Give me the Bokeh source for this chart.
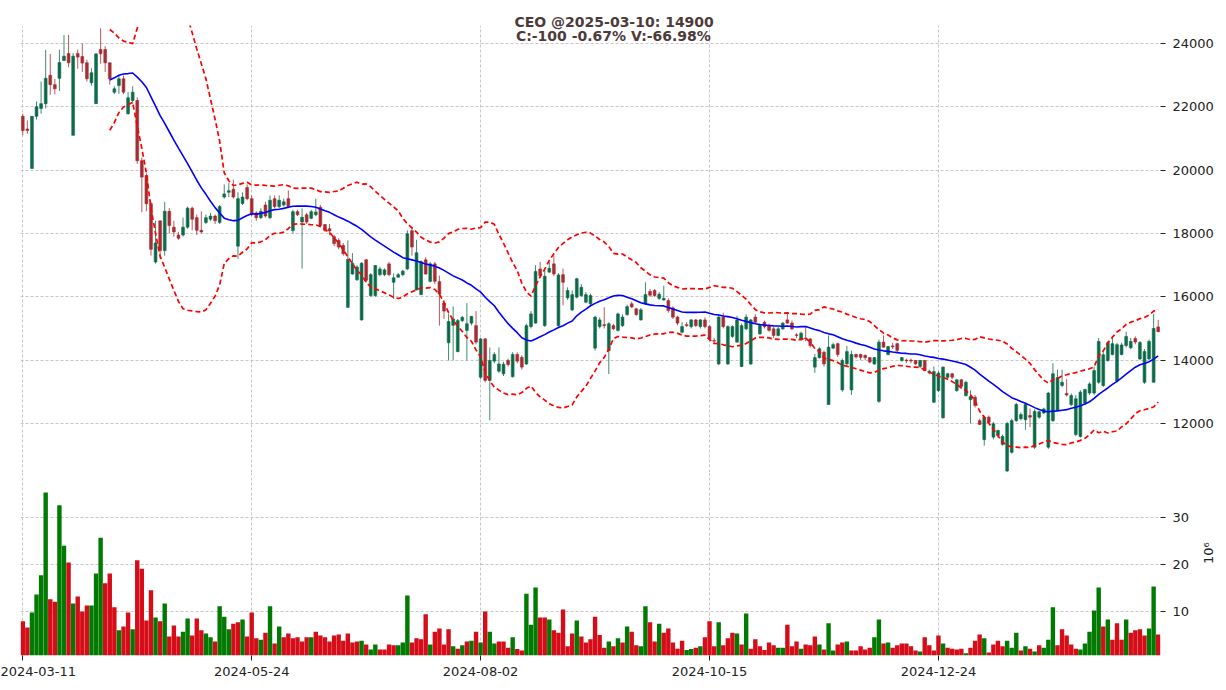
import numpy as np
import pandas as pd
from bokeh.plotting import figure
from bokeh.layouts import column
from bokeh.models import Range1d, FixedTicker, Label, ColumnDataSource
from bokeh.embed import file_html
from bokeh.resources import INLINE

ticker_name = "CEO"
title_line1 = "CEO @2025-03-10: 14900"
title_line2 = "C:-100 -0.67% V:-66.98%"
volume_unit = "10\u2076"
tick_dates = ["2024-03-11", "2024-05-24", "2024-08-02", "2024-10-15", "2024-12-24"]
tick_index = [0, 50, 100, 150, 200]
price_ticks = [12000, 14000, 16000, 18000, 20000, 22000, 24000]
volume_ticks = [10, 20, 30]

open_ = [
    21700, 21300, 20050, 21700, 21950, 22100, 23000, 22700, 22900, 23460,
    23680, 21100, 23680, 23590, 23390, 22760, 22100, 23810, 23810, 23390,
    22460, 22674, 22885, 21780, 22200, 22200, 20300, 19830, 18940, 17100,
    18400, 17460, 18700, 18200, 17950, 17950, 18200, 18800, 18500, 18100,
    18350, 18450, 18550, 18350, 19150, 19300, 19400, 17600, 18950, 19450,
    19100, 18650, 18500, 18900, 18500, 19100, 18850, 18900, 19100, 18095,
    18690, 18360, 18590, 18480, 18590, 18830, 18280, 18150, 17900, 17780,
    17620, 15670, 16720, 16540, 15270, 17170, 16040, 16040, 16700, 16700,
    17040, 16460, 16620, 16700, 16880, 18090, 16220, 16070, 17170, 16490,
    17040, 16480, 15800, 14550, 15100, 14270, 15250, 14940, 15170, 15090,
    13460, 14670, 13360, 13970, 13650, 13570, 13990, 13480, 14180, 14090,
    13880, 15060, 15170, 16880, 15090, 16780, 17040, 15090, 16700, 15970,
    15590, 15990, 16040, 15830, 15780, 14380, 15060, 15120, 14300, 15090,
    14940, 15090, 15440, 15780, 15620, 15270, 15780, 16170, 16200, 15950,
    15900, 15880, 15650, 15360, 14880, 15120, 15060, 15270, 15060, 15270,
    15060, 14620, 13880, 15360, 13880, 14750, 14570, 13800, 14990, 13880,
    15360, 14830, 15200, 15090, 14990, 14780, 14990, 15270, 15170, 14800,
    14670, 14700, 14670, 13780, 14080, 14250, 12600, 14380, 14520, 13060,
    13880, 13060, 14180, 14180, 14150, 14080, 13880, 12700, 14570, 14180,
    14450, 14520, 13990, 14000, 14000, 13990, 13800, 13990, 13600, 12670,
    13040, 12180, 13460, 13570, 13040, 13380, 12880, 12750, 12830, 12090,
    11490, 12200, 11570, 11620, 11340, 10500, 11090, 12090, 12150, 12120,
    12250, 11250, 12200, 12330, 11250, 12090, 12410, 13200, 12950, 12600,
    11650, 11590, 12640, 12960, 12960, 13300, 13200, 13990, 14180, 13340,
    14180, 14460, 14390, 14680, 14040, 13300, 14040, 13300, 15050,
]
high = [
    21780, 21570, 21700, 22170, 22800, 23800, 23670, 22880, 23800, 24270,
    24270, 23700, 23810, 24000, 23485, 23220, 23700, 24480, 23915, 23400,
    22650, 22990, 22990, 22470, 22650, 22300, 20400, 19900, 19000, 18400,
    18400, 19000, 18800, 18400, 18050, 18500, 18850, 18850, 18600, 18700,
    18600, 18650, 18600, 18900, 19550, 19600, 19700, 19300, 19300, 19550,
    19200, 18700, 18800, 19000, 19200, 19200, 19200, 19100, 19360, 18750,
    18750, 18790, 18650, 18750, 19100, 18900, 18300, 18300, 17950, 17850,
    17700, 17780, 17380, 17000, 17100, 17200, 16750, 17000, 16950, 16900,
    17100, 16740, 16750, 16850, 18100, 18200, 17800, 17150, 17250, 17100,
    17100, 16670, 15900, 15470, 15700, 15300, 15400, 15800, 15400, 15550,
    14700, 14700, 14400, 14250, 14400, 13950, 14050, 14250, 14250, 14150,
    15150, 15550, 17000, 17100, 16900, 17100, 17300, 16750, 16890, 16300,
    16200, 16600, 16400, 16150, 16100, 15400, 15350, 15670, 15200, 15150,
    15500, 15450, 15750, 15850, 15650, 15650, 16460, 16250, 16250, 16150,
    16350, 15950, 15700, 15400, 15200, 15200, 15300, 15300, 15300, 15350,
    15100, 14700, 15450, 15500, 15100, 15100, 15400, 15150, 15450, 15300,
    15450, 15150, 15250, 15150, 15050, 15050, 15200, 15510, 15250, 14850,
    14900, 15050, 14700, 14200, 14400, 14300, 14780, 14550, 14550, 14050,
    14450, 14300, 14200, 14200, 14180, 14100, 14100, 14650, 14780, 14450,
    14550, 14550, 14100, 14050, 14050, 14000, 14000, 14000, 13700, 13800,
    13650, 13800, 13600, 13600, 13400, 13400, 13350, 13050, 12900, 12150,
    12250, 12250, 12050, 11800, 11650, 12050, 12150, 12650, 12350, 12650,
    12470, 12450, 12400, 12500, 13000, 13900, 13700, 13700, 13400, 12950,
    12900, 13050, 13100, 13300, 13800, 14700, 14300, 14600, 14700, 14550,
    14550, 14900, 14700, 14750, 14600, 14350, 14650, 15460, 15270,
]
low = [
    21100, 21150, 20050, 21600, 21780, 21950, 22380, 22390, 22500, 23460,
    23250, 21100, 23200, 23100, 22800, 22670, 22095, 23360, 23100, 22700,
    22400, 22410, 22400, 21760, 22100, 20200, 18670, 18700, 17300, 17050,
    17200, 17300, 18000, 17900, 17800, 17900, 18150, 18100, 17950, 18000,
    18300, 18400, 18300, 18300, 19100, 19150, 19100, 17200, 18900, 19050,
    18550, 18400, 18450, 18500, 18450, 18800, 18800, 18850, 18800, 18000,
    18550, 16890, 18300, 18450, 18550, 18200, 18050, 17950, 17600, 17500,
    17300, 15650, 16700, 16500, 15250, 16450, 16000, 16000, 16650, 16650,
    16650, 15930, 16600, 16650, 16850, 17300, 16200, 16050, 16700, 16450,
    16400, 15090, 15300, 13990, 14000, 14250, 15200, 13990, 15100, 14500,
    13400, 13300, 12100, 13900, 13600, 13500, 13800, 13450, 13900, 13700,
    13850, 15000, 15150, 16600, 15050, 16750, 16650, 15050, 15730, 15900,
    15550, 15950, 16000, 15800, 15700, 14300, 15000, 15000, 13560, 14950,
    14900, 15050, 15400, 15650, 15400, 15250, 15750, 16000, 16000, 15900,
    15880, 15500, 15300, 15100, 14850, 15050, 15000, 15050, 15000, 15000,
    14600, 14500, 13850, 15000, 13850, 14700, 14550, 13780, 14950, 13850,
    15150, 14800, 15000, 14900, 14700, 14750, 14950, 15150, 14950, 14700,
    14600, 14600, 14400, 13600, 14050, 13800, 12600, 14350, 14100, 13000,
    13850, 12900, 14050, 14000, 14000, 13900, 13850, 12650, 14400, 14150,
    14350, 14250, 13950, 13900, 13900, 13850, 13750, 13650, 13550, 12650,
    13000, 12150, 13400, 13400, 13000, 13100, 12850, 12000, 12500, 11950,
    11300, 12000, 11500, 11550, 11300, 10450, 11050, 12050, 12100, 11800,
    11890, 11200, 12150, 12300, 11200, 12050, 12400, 13150, 12850, 12550,
    11600, 11550, 12600, 12900, 12900, 13250, 13150, 13950, 14150, 13300,
    14150, 14400, 14350, 14500, 14000, 13250, 14000, 13300, 14880,
]
close = [
    21250, 21250, 21700, 22000, 22100, 22900, 22700, 22570, 23400, 23600,
    23390, 23600, 23570, 23380, 22885, 23075, 23670, 23675, 23390, 22885,
    22570, 22885, 22463, 22285, 22463, 20300, 19780, 18940, 17500, 17700,
    17460, 18700, 18250, 18050, 17850, 18200, 18800, 18450, 18100, 18050,
    18500, 18550, 18400, 18850, 19250, 19350, 19150, 19100, 19150, 19100,
    18600, 18500, 18700, 18550, 19050, 18850, 19050, 19000, 18850, 18690,
    18590, 18510, 18360, 18690, 18680, 18250, 18100, 18080, 17680, 17570,
    17360, 17180, 17060, 16940, 17060, 16520, 16700, 16990, 16880, 16850,
    16700, 16600, 16700, 16810, 17990, 17570, 17390, 17110, 16720, 17040,
    16490, 16090, 15550, 15220, 15300, 15250, 15350, 15150, 15380, 14570,
    14670, 13360, 13990, 14180, 13880, 13870, 13860, 14180, 13970, 13780,
    15090, 15460, 16800, 16670, 16650, 16900, 16720, 16690, 16460, 16200,
    16070, 16570, 16300, 16070, 16040, 15360, 15270, 15090, 15150, 14990,
    15460, 15360, 15690, 15680, 15440, 15590, 16070, 16050, 16040, 16080,
    15950, 15570, 15360, 15170, 15060, 15090, 15270, 15090, 15270, 15060,
    14670, 14600, 15360, 15060, 15060, 15060, 15270, 15090, 15360, 15270,
    15200, 15090, 15060, 14940, 14780, 14990, 15170, 15170, 14990, 14780,
    14850, 14680, 14460, 14080, 14360, 13880, 14410, 14490, 14180, 13990,
    14270, 14180, 14100, 14090, 14080, 13940, 14080, 14570, 14410, 14430,
    14420, 14310, 14080, 13980, 13975, 13880, 13990, 13670, 13650, 13640,
    13590, 13780, 13570, 13460, 13380, 13170, 13300, 12850, 12570, 11970,
    12200, 12040, 11990, 11780, 11590, 12000, 12090, 12600, 12280, 12600,
    12200, 12380, 12370, 12460, 12960, 13570, 13450, 13300, 12900, 12880,
    12780, 12990, 13070, 13250, 13670, 14590, 14170, 14550, 14520, 14490,
    14480, 14750, 14590, 14570, 14560, 14270, 14590, 15000, 14900,
]
volume_m = [
    7.9, 6.6, 9.8, 13.6, 17.7, 35.3, 12.6, 12.1, 32.6, 24.0,
    20.4, 11.7, 13.2, 10.0, 11.3, 11.3, 18.1, 25.7, 16.0, 18.1,
    10.9, 6.0, 6.8, 9.8, 6.2, 20.9, 19.1, 8.1, 14.5, 8.7,
    7.9, 11.7, 4.7, 7.0, 4.7, 5.7, 8.5, 4.9, 8.5, 6.0,
    5.3, 4.5, 3.6, 11.1, 8.9, 6.2, 7.4, 7.7, 8.3, 4.7,
    9.8, 4.3, 4.0, 5.5, 11.1, 3.2, 6.8, 4.5, 5.3, 4.3,
    4.5, 3.6, 4.5, 4.5, 5.7, 4.9, 4.5, 3.6, 4.9, 5.1,
    3.8, 5.3, 3.4, 3.6, 3.8, 3.0, 1.9, 3.0, 1.9, 1.9,
    3.0, 2.8, 2.8, 3.4, 13.4, 3.4, 4.3, 4.1, 9.4, 3.0,
    5.7, 6.4, 3.0, 6.2, 2.6, 2.1, 2.8, 3.6, 3.8, 5.7,
    3.4, 10.0, 5.7, 3.2, 3.6, 3.6, 2.3, 4.5, 2.0, 1.7,
    13.8, 7.2, 15.1, 8.7, 8.7, 8.3, 6.0, 5.5, 10.4, 2.6,
    5.3, 8.1, 4.7, 3.4, 4.1, 8.9, 5.0, 2.3, 3.6, 2.6,
    4.3, 3.4, 6.8, 5.7, 2.8, 2.6, 11.1, 7.7, 3.6, 7.4,
    5.5, 6.4, 3.4, 2.1, 3.8, 1.8, 2.0, 2.3, 2.6, 4.5,
    7.9, 2.6, 7.7, 2.8, 4.3, 5.5, 5.3, 3.0, 9.6, 2.1,
    4.1, 2.6, 1.8, 3.4, 2.8, 2.3, 2.3, 7.2, 2.6, 3.6,
    2.1, 3.0, 2.8, 4.7, 3.0, 1.9, 7.5, 1.7, 3.0, 3.4,
    3.6, 1.7, 1.7, 2.6, 1.9, 2.3, 4.5, 8.3, 3.2, 3.4,
    2.3, 2.8, 3.2, 3.2, 2.6, 1.7, 1.5, 4.5, 2.8, 1.7,
    4.9, 3.2, 2.3, 2.1, 1.9, 2.1, 1.1, 2.3, 3.8, 5.1,
    4.3, 1.3, 3.0, 3.8, 2.6, 3.8, 2.3, 5.5, 1.7, 2.6,
    2.1, 1.5, 2.8, 2.3, 4.0, 10.9, 2.8, 6.2, 4.9, 3.0,
    2.1, 1.9, 3.2, 5.7, 10.2, 15.1, 6.8, 8.3, 4.0, 7.5,
    4.0, 8.3, 5.5, 6.0, 6.2, 4.9, 6.4, 15.3, 5.1,
]

# ---------------- derived (as the original plotting library does) -------------
df = pd.DataFrame(dict(o=open_, h=high, l=low, c=close, v=volume_m))
n = len(df)
df["x"] = np.arange(n)
UP_C, DN_C = "#006340", "#a02128"
VUP_C, VDN_C = "#007a00", "#d50d18"
df["up"] = df.o < df.c
df["ccol"] = np.where(df.up, UP_C, DN_C)
df["top"] = df[["o", "c"]].max(axis=1)
df["bot"] = df[["o", "c"]].min(axis=1)
prev = df.c.shift(1)
vup = (prev < df.c)
vup.iloc[0] = df.o.iloc[0] < df.c.iloc[0]
df["vcol"] = np.where(vup, VUP_C, VDN_C)
ma = df.c.rolling(20).mean()
sd = df.c.rolling(20).std()
df["ma"] = ma
df["bu"] = ma + 2 * sd
df["bl"] = ma - 2 * sd
src = ColumnDataSource(df)

FONT = "DejaVu Sans"
GRID = "#b9b9b9"
TITLE_C = "#4d3b3b"
W = 1226
BL, BR = 20, 66
xr = Range1d(-0.5, n - 0.5)

# ---------------- price panel ----------------
p = figure(width=W, height=472, x_range=xr, y_range=Range1d(10452, 24568),
           output_backend="svg", toolbar_location=None, x_axis_location=None,
           y_axis_location="right", min_border_left=BL, min_border_right=BR,
           min_border_top=25, min_border_bottom=0)
p.outline_line_color = None
p.background_fill_color = "white"
p.border_fill_color = "white"

p.title.text = title_line1
p.title.align = "left"
p.title.offset = 494
p.title.standoff = -8
p.title.vertical_align = "bottom"
p.title.text_font = FONT
p.title.text_font_size = "14px"
p.title.text_font_style = "bold"
p.title.text_color = TITLE_C

p.xgrid.ticker = FixedTicker(ticks=tick_index)
p.ygrid.ticker = FixedTicker(ticks=price_ticks)
for g in (p.xgrid, p.ygrid):
    g.grid_line_color = GRID
    g.grid_line_dash = "3 2"
    g.grid_line_width = 0.8
ax = p.yaxis[0]
ax.ticker = FixedTicker(ticks=price_ticks)
ax.axis_line_color = None
ax.major_tick_out = 5
ax.major_tick_in = 0
ax.minor_tick_line_color = None
ax.major_tick_line_color = "#222222"
ax.major_label_standoff = 7
ax.major_label_text_font = FONT
ax.major_label_text_font_size = "13px"
ax.major_label_text_color = "#222222"

p.segment(x0="x", y0="l", x1="x", y1="h", source=src, line_color="ccol",
          line_width=1.0, line_alpha=0.75)
p.vbar(x="x", top="top", bottom="bot", width=0.62, source=src,
       fill_color="ccol", line_color="ccol", line_width=0.6, fill_alpha=0.9,
       line_alpha=0.9)
p.line(x="x", y="ma", source=src, line_color="#0000ff", line_width=1.6)
p.line(x="x", y="bu", source=src, line_color="#ff0000", line_width=1.7,
       line_dash="5 3")
p.line(x="x", y="bl", source=src, line_color="#ff0000", line_width=1.7,
       line_dash="5 3")

p.add_layout(Label(x=129.0, y=24221, text=title_line2, text_align="center",
                   text_baseline="alphabetic", text_font=FONT,
                   text_font_size="14px", text_font_style="bold",
                   text_color=TITLE_C))

# ---------------- volume panel ----------------
v = figure(width=W, height=217, x_range=xr, y_range=Range1d(0.64, 39.57),
           output_backend="svg", toolbar_location=None,
           y_axis_location="right", min_border_left=BL, min_border_right=BR,
           min_border_top=0, min_border_bottom=34)
v.outline_line_color = None
v.background_fill_color = "white"
v.border_fill_color = "white"
v.xgrid.ticker = FixedTicker(ticks=tick_index)
v.ygrid.ticker = FixedTicker(ticks=volume_ticks)
for g in (v.xgrid, v.ygrid):
    g.grid_line_color = GRID
    g.grid_line_dash = "3 2"
    g.grid_line_width = 0.8
v.vbar(x="x", top="v", bottom=0, width=0.96, source=src, fill_color="vcol",
       line_color=None)
vy = v.yaxis[0]
vy.ticker = FixedTicker(ticks=volume_ticks)
vx = v.xaxis[0]
vx.ticker = FixedTicker(ticks=tick_index)
vx.major_label_overrides = {i: d for i, d in zip(tick_index, tick_dates)}
for a in (vy, vx):
    a.axis_line_color = None
    a.major_tick_out = 5
    a.major_tick_in = 0
    a.minor_tick_line_color = None
    a.major_tick_line_color = "#222222"
    a.major_label_text_font = FONT
    a.major_label_text_font_size = "13px"
    a.major_label_text_color = "#222222"
vy.major_label_standoff = 7
vx.major_label_standoff = 6
vy.axis_label = volume_unit
vy.axis_label_standoff = 16
vy.axis_label_text_font = FONT
vy.axis_label_text_font_size = "13px"
vy.axis_label_text_font_style = "normal"
vy.axis_label_text_color = "#222222"
try:
    vy.axis_label_orientation = float(np.pi / 2)
except Exception:
    pass

layout = column(p, v, spacing=0)
open("out.html", "w").write(file_html(layout, INLINE, title=ticker_name))
